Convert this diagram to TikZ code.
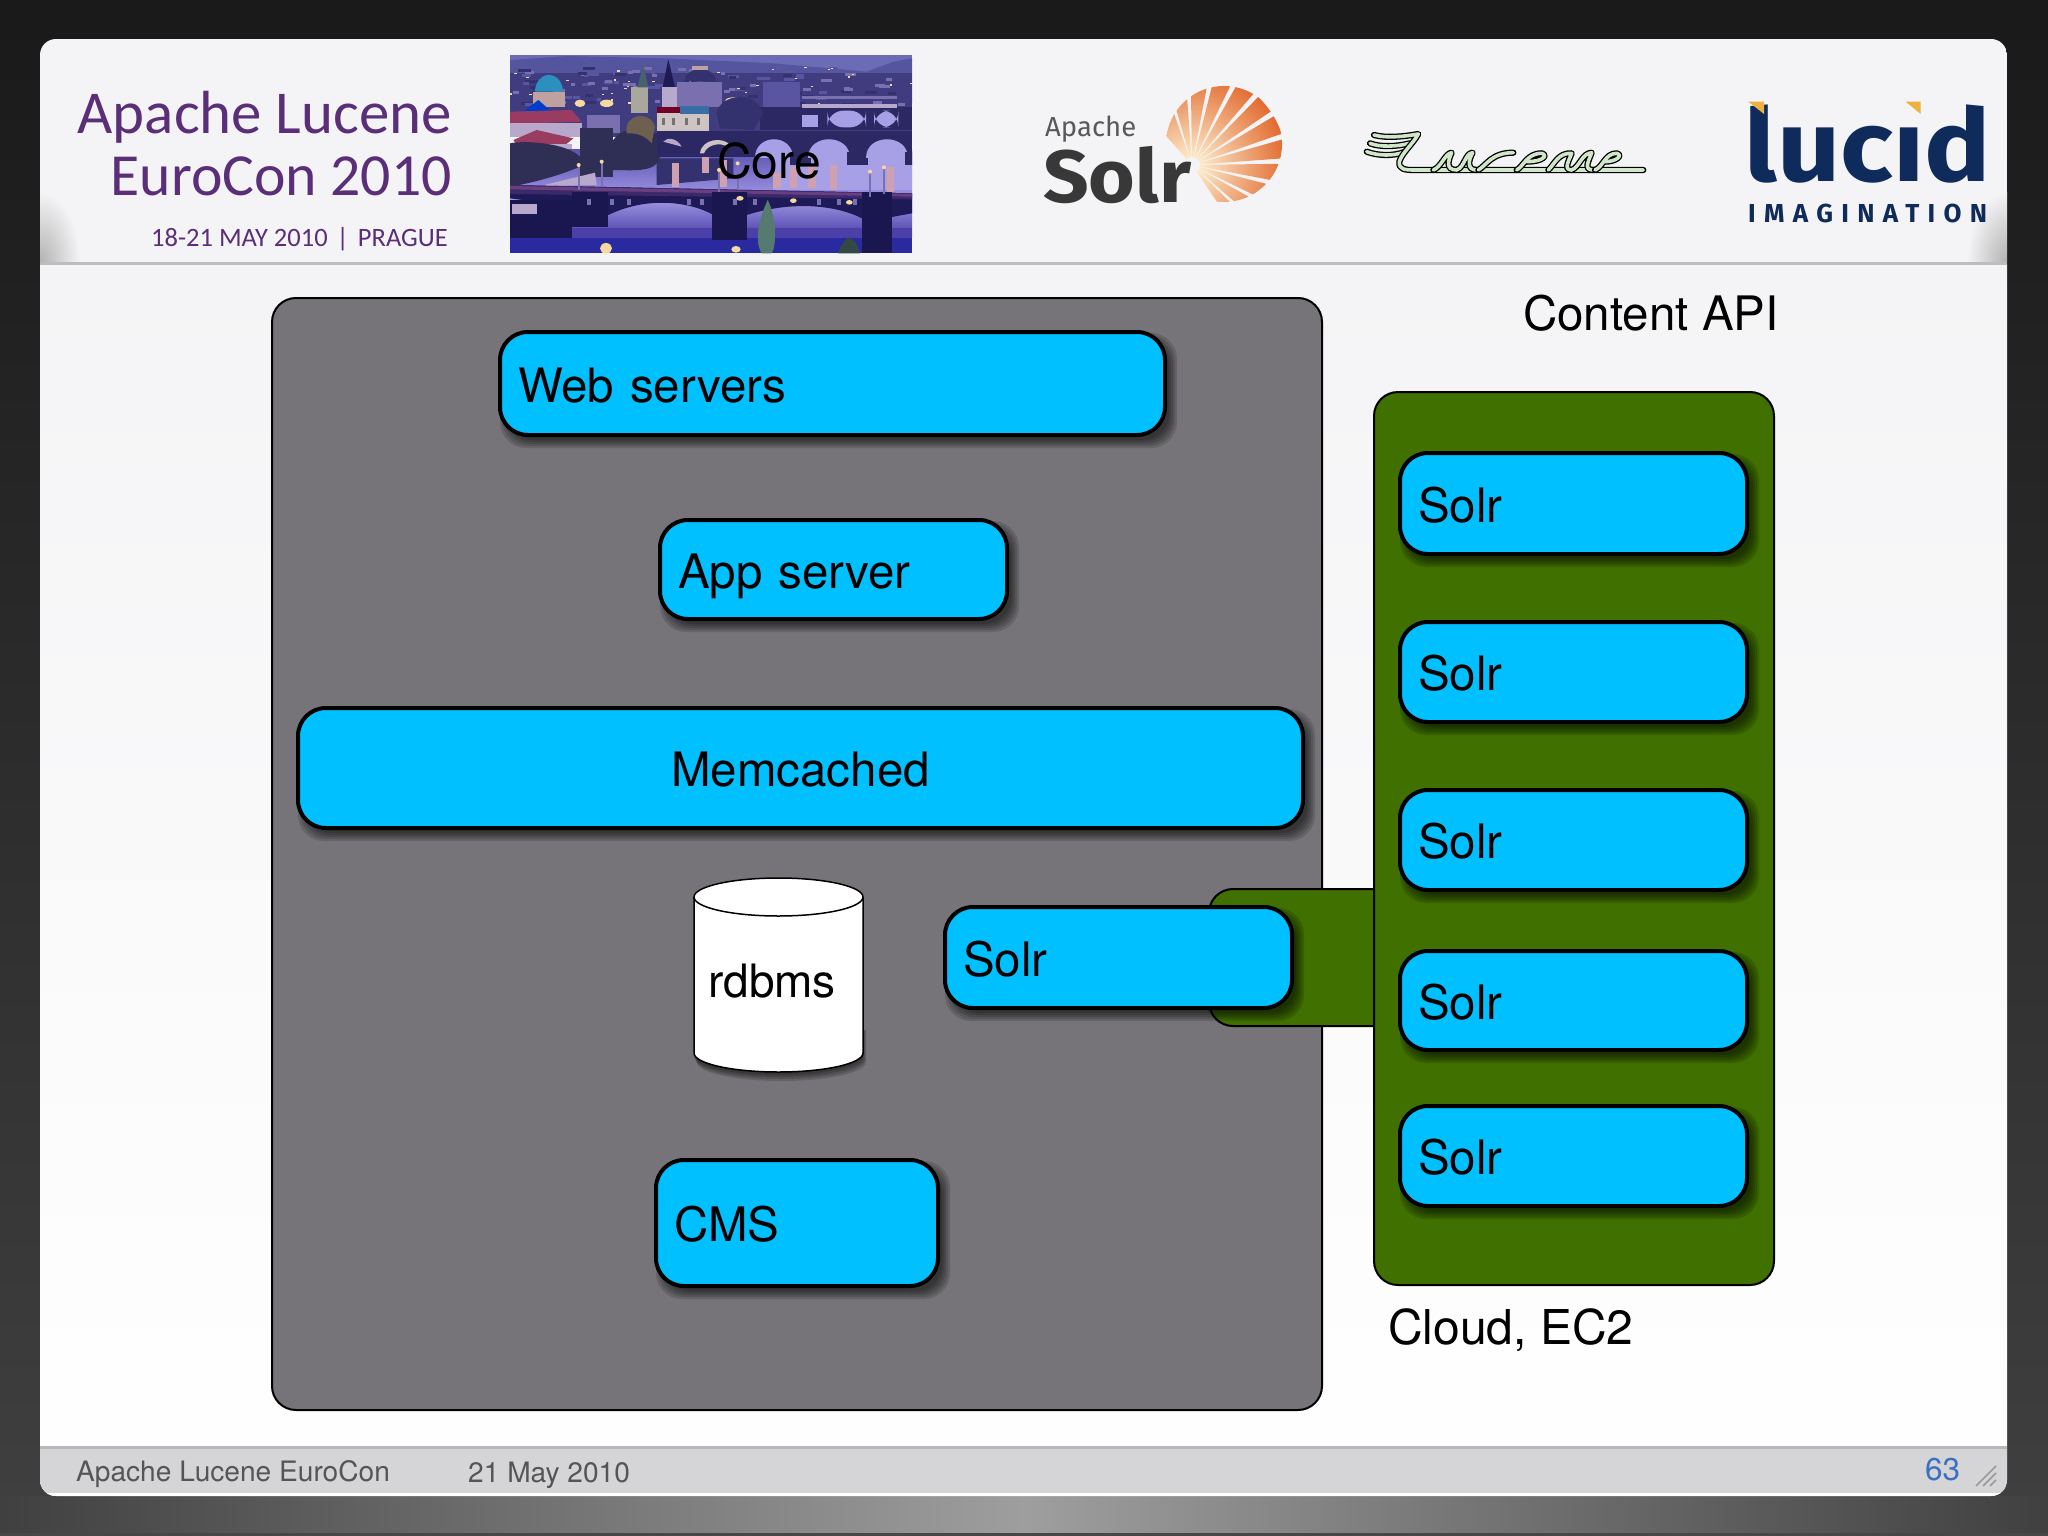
\documentclass[tikz,border=0pt]{standalone}
\usepackage{fontspec}
\setmainfont{TeX Gyre Heros}
\newfontfamily\titlef{Carlito}
\newfontfamily\firaf{Fira Sans}
\newfontfamily\imgf[LetterSpace=32]{Fira Sans}
\definecolor{bluefill}{HTML}{00C0FF}
\definecolor{greenfill}{HTML}{407000}
\definecolor{grayfill}{HTML}{767478}
\definecolor{headbg}{HTML}{F4F4F6}
\definecolor{footbg}{HTML}{D5D4D7}
\definecolor{titlepurple}{HTML}{5A2E78}
\definecolor{navy}{HTML}{0F2B5B}
\definecolor{amber}{HTML}{EDB13F}
\definecolor{palegreen}{HTML}{CFE6C8}
\definecolor{pagenum}{HTML}{3B70C2}
\definecolor{foottext}{HTML}{555555}
\definecolor{sunin}{HTML}{FFF6D6}
\definecolor{sunmid}{HTML}{F8CE8E}
\definecolor{sunout}{HTML}{E26A30}
% Prague palette
\definecolor{psky}{HTML}{6C6BB5}
\definecolor{phill}{HTML}{55549F}
\definecolor{pcity}{HTML}{3F3D80}
\definecolor{pb1}{HTML}{5A55A0}
\definecolor{pb2}{HTML}{7A70B0}
\definecolor{pb3}{HTML}{33316E}
\definecolor{pbridge}{HTML}{2B2864}
\definecolor{pdark}{HTML}{1E1A58}
\definecolor{ppier}{HTML}{1A1750}
\definecolor{pdeck}{HTML}{3A2A6A}
\definecolor{pdeckline}{HTML}{6A3F80}
\definecolor{pwatera}{HTML}{5C54B0}
\definecolor{pwaterb}{HTML}{9A90E0}
\definecolor{pwaterc}{HTML}{A8A0E6}
\definecolor{plow}{HTML}{A59CE8}
\definecolor{plowb}{HTML}{4A40A8}
\definecolor{pdeep}{HTML}{2A2AA0}
\definecolor{ptree}{HTML}{2F2F55}
\definecolor{polive}{HTML}{6E6050}
\definecolor{pred}{HTML}{9A3C62}
\definecolor{pwall}{HTML}{B8A8CC}
\definecolor{pteal}{HTML}{2B8FC0}
\definecolor{pdrum}{HTML}{BFA2A0}
\definecolor{pcream}{HTML}{CFC4C4}
\definecolor{pglow}{HTML}{F6D9A0}
\definecolor{prefl}{HTML}{CFA0B0}
\definecolor{pcyp}{HTML}{557A70}
\definecolor{pstone}{HTML}{AAA89C}
\tikzset{
 x=1pt,y=-1pt,
 bluenode/.style={draw=black,line width=4pt,fill=bluefill,rounded corners=28pt,inner xsep=18pt,inner ysep=0pt,align=left,text height=37pt,text depth=0pt,font=\fontsize{47.5}{52}\selectfont},
 darkpanel/.style={draw=black,line width=2pt,rounded corners=24pt},
 biglabel/.style={inner sep=0pt,anchor=west,font=\fontsize{47.5}{52}\selectfont},
 foot/.style={inner sep=0pt,anchor=base west,text=foottext,font=\fontsize{28.1}{32}\selectfont},
 titletext/.style={inner sep=0pt,anchor=base east,text=titlepurple},
 lucenestroke/.style={draw=black,line width=1.3pt,double=palegreen,double distance=3.6pt,line cap=round,line join=round},
}
\newcommand{\softshadow}[5]{%
 \foreach \e in {6,4,2,0,-2}{\fill[black,opacity=.14,rounded corners=#5] ({#1+6-\e},{#2+7-\e}) rectangle ({#3+6+\e},{#4+7+\e});}}
\newcommand{\bluebox}[6]{%
 \softshadow{#2}{#3}{#4}{#5}{26pt}%
 \pgfmathsetmacro\bw{#4-#2}\pgfmathsetmacro\bh{#5-#3}\pgfmathsetmacro\bt{#4-#2-36}%
 \node[bluenode,minimum width=\bw pt,minimum height=\bh pt,text width=\bt pt] (#1) at ({(#2+#4)/2},{(#3+#5)/2}) {#6};}
\begin{document}
\begin{tikzpicture}
\useasboundingbox (0,0) rectangle (2048,1536);
% page background
\shade[top color=black!90,bottom color=black!75] (0,0) rectangle (2048,1536);
\shade[left color=black!75,right color=black!75,middle color=black!38] (0,1496) rectangle (2048,1536);
\fill[black!72] (0,1533) rectangle (2048,1536);
% slide
\begin{scope}
\clip[rounded corners=16pt] (40,39) rectangle (2007,1496);
\shade[top color=headbg,bottom color=white] (40,264) rectangle (2007,1496);
\fill[headbg] (40,39) rectangle (2007,264);
\begin{scope}
\clip (40,39) rectangle (2007,262);
\shade[inner color=black!30,outer color=headbg] (40,262) ellipse (40 and 70);
\shade[inner color=black!30,outer color=headbg] (2007,262) ellipse (40 and 70);
\end{scope}
\fill[black!26] (40,262) rectangle (2007,265);
\fill[footbg] (40,1446) rectangle (2007,1496);
\fill[black!28] (40,1446) rectangle (2007,1449);
\fill[white] (40,1493) rectangle (2007,1496);
\end{scope}
% conference title
\node[titletext,font=\titlef\fontsize{60.9}{64}\selectfont] (t1) at (452,134) {Apache Lucene};
\node[titletext,font=\titlef\fontsize{59.7}{64}\selectfont] (t2) at (452,195) {EuroCon 2010};
\node[titletext,font=\titlef\fontsize{26.5}{28}\selectfont] (t3) at (448,246) {18-21 MAY 2010\hspace{9pt}|\hspace{9pt}PRAGUE};
% Prague picture
\begin{scope}[shift={(500,50)},x=.33333pt,y=-.33333pt]
\clip (30,15) rectangle (1236,610);
\fill[psky] (30,15) rectangle (1236,70);
\fill[phill] (30,70) -- (30,30) -- (200,18) -- (500,25) -- (820,40) -- (1100,65) -- (1180,35) -- (1236,25) -- (1236,160) -- (30,160) -- cycle;
\fill[pcity] (30,70) rectangle (1236,260);
\pgfmathsetseed{41}
\foreach \i in {1,...,110}{
 \pgfmathsetmacro\xa{30+1200*rnd}\pgfmathsetmacro\ya{50+110*rnd}\pgfmathsetmacro\wa{12+28*rnd}
 \pgfmathrandominteger{\pk}{1}{3}
 \fill[pb\pk] (\xa,\ya) rectangle ({\xa+\wa},{\ya+9});}
\foreach \i in {1,...,35}{
 \pgfmathsetmacro\xa{30+1200*rnd}\pgfmathsetmacro\ya{50+110*rnd}
 \fill[pglow] (\xa,\ya) rectangle ({\xa+7},{\ya+4});}
% far bridge
\fill[pbridge] (780,170) rectangle (1236,240);
\fill[pb1] (790,95) rectangle (900,170);
\fill[pb2] (905,138) rectangle (1190,148);
\fill[pwall] (905,162) rectangle (1190,174);
\fill[pwaterc] (905,195) rectangle (955,232);
\fill[rounded corners=16pt,pwaterc] (982,182) rectangle (1098,232);
\fill[rounded corners=16pt,pwaterc] (1122,182) rectangle (1195,232);
% dome, towers, buildings
\fill[pdrum] (100,125) rectangle (195,172);
\fill[pteal] (105,125) arc[start angle=180,end angle=360,x radius=42,y radius=50] -- cycle;
\fill[blue!70!cyan!80!black] (70,185) -- (115,150) -- (155,185) -- cycle;
\fill[pred] (30,185) -- (215,180) -- (245,215) -- (30,222) -- cycle;
\fill[pwall] (30,218) rectangle (245,262);
\fill[pred] (40,270) -- (110,240) -- (220,265) -- (190,290) -- (50,285) -- cycle;
\fill[pwall] (60,282) rectangle (215,300);
\fill[pstone] (392,112) rectangle (445,190);
\fill[cyan!35!black] (430,42) -- (412,112) -- (445,112) -- cycle;
\fill[pdark] (505,28) -- (488,112) -- (525,112) -- cycle;
\fill[pwall] (485,110) rectangle (532,172);
\fill[pb2] (530,95) rectangle (665,172);
\fill[pb3] (553,95) arc[start angle=180,end angle=360,x radius=48,y radius=38] -- cycle;
\fill[pdrum] (575,48) rectangle (625,60);
\fill[pcream] (470,172) rectangle (626,250);
\fill[purple!60!black] (470,170) rectangle (540,188);
\fill[cyan!55!blue!75!black] (540,168) rectangle (626,192);
\foreach \x in {485,515,555,590}{\fill[black!55] (\x,205) rectangle ({\x+10},225);}
\fill[pb2] (260,195) rectangle (360,250);
% lights
\fill[pglow] (240,160) ellipse (16 and 11);
\fill[pglow] (320,160) ellipse (20 and 11);
\fill[pglow] (700,152) ellipse (24 and 10);
% water
\shade[top color=pwatera,bottom color=pwaterb] (30,300) rectangle (1236,430);
\fill[pwaterc] (820,310) rectangle (1236,420);
\fill[pb3] (470,325) -- (700,325) -- (700,385) -- (470,405) -- cycle;
% trees
\fill[ptree] (330,360) .. controls (300,230) and (420,220) .. (470,250) -- (480,320) .. controls (470,370) and (400,360) .. (330,360) -- cycle;
\fill[polive] (380,250) .. controls (370,190) and (450,180) .. (465,230) -- (455,280) .. controls (430,250) and (400,250) .. (380,250) -- cycle;
\fill[pb3] (650,190) .. controls (660,130) and (770,120) .. (790,190) -- (760,240) -- (660,235) -- cycle;
\fill[ptree] (240,235) rectangle (340,380);
\fill[ptree] (30,280) .. controls (80,270) and (200,280) .. (240,320) -- (240,350) .. controls (170,380) and (90,400) .. (30,410) -- cycle;
\fill[pwall] (120,408) -- (285,368) -- (290,405) -- cycle;
% middle bridge
\fill[pbridge] (470,242) rectangle (1236,322);
\foreach \xa/\xb in {765/878,925/1050,1097/1224}{
 \fill[pwaterc] (\xa,325) .. controls (\xa,250) and (\xb,250) .. (\xb,325) -- cycle;
 \fill[pbridge] ({\xb-8},305) rectangle ({\xb+55},345);}
\fill[pcream] (600,310) .. controls (605,265) and (670,260) .. (690,285) -- (680,290) .. controls (660,275) and (620,285) .. (612,310) -- cycle;
\fill[pwall] (490,275) .. controls (500,262) and (530,262) .. (545,290) -- cycle;
% reflections
\foreach \xa/\ya/\yb in {515/340/410,605/320/370,660/330/410,820/370/415,870/350/415,925/350/415,990/345/420,1160/350/425}{
 \fill[prefl] (\xa,\ya) rectangle ({\xa+22},\yb);}
% lower water and bridge
\shade[top color=plow,bottom color=plowb] (30,440) rectangle (1236,560);
\fill[plowb] (30,535) rectangle (1236,610);
\fill[pdeep] (30,565) rectangle (1236,610);
\fill[pdark] (30,405) -- (1236,430) -- (1236,490) -- (1170,502) .. controls (1150,480) and (1110,470) .. (1085,505) .. controls (1030,475) and (900,445) .. (740,495) -- (640,495) .. controls (590,465) and (460,430) .. (325,495) -- (215,470) -- (30,445) -- cycle;
\fill[pdeck] (30,405) -- (1236,430) -- (1236,448) -- (30,432) -- cycle;
\fill[pdeckline] (30,408) -- (1236,432) -- (1236,440) -- (30,418) -- cycle;
\foreach \xa/\xb/\yb in {215/325/530,635/740/570,1085/1175/610}{
 \fill[ppier] (\xa,425) rectangle (\xb,\yb);}
\fill[ppier] (30,450) rectangle (215,565);
\fill[pwall] (35,462) rectangle (110,492);
\foreach \x in {260,330,380,560,600,700,760,950,1010,1060}{\fill[pb2] (\x,448) rectangle ({\x+12},466);}
\fill[pglow] (720,445) ellipse (11 and 7);
\fill[pglow] (880,452) ellipse (10 and 7);
\fill[pglow] (1048,457) ellipse (10 and 7);
\fill[pglow] (318,595) ellipse (18 and 16);
\fill[pglow] (708,598) ellipse (14 and 10);
% cypress and trees
\fill[pcyp] (803,450) .. controls (830,500) and (830,590) .. (815,610) -- (785,610) .. controls (760,570) and (780,500) .. (803,450) -- cycle;
\fill[pcyp!60!black] (1015,610) .. controls (1030,560) and (1060,540) .. (1080,610) -- cycle;
% lamp posts
\foreach \x/\ya/\yb in {236/345/420,305/335/410,657/360/425,713/340/420,1110/365/440,1152/352/432}{
 \fill[pb2] ({\x-3},\ya) rectangle ({\x+3},\yb);
 \fill[pglow] (\x,\ya) circle (6);}
\end{scope}
\node[biglabel,font=\fontsize{48}{52}\selectfont] (core) at (717,161) {Core};
% Solr logo
\begin{scope}
\clip (1224,144) circle (58);
\clip \foreach \a in {-50,-35,-20,-5,10,25,40,55,70,85,100,115,126}{ (1192,165) -- +({-\a-5.8}:170) -- +({-\a+5.8}:170) -- cycle };
\shade[inner color=sunin,middle color=sunmid,outer color=sunout] (1192,165) circle (95);
\end{scope}
\fill[headbg] (1192,165) circle (8);
\node[inner sep=0pt,anchor=base west,text=black!65,font=\firaf\fontsize{27.5}{30}\selectfont] (sa) at (1045,136) {Apache};
\node[inner sep=0pt,anchor=base west,text=black!78,xscale=1.08,transform shape,font=\firaf\bfseries\fontsize{74}{76}\selectfont] (sb) at (1043,202) {Solr};
% Lucene logo
\begin{scope}[shift={(1350,120)},x=.33333pt,y=-.33333pt]
\draw[lucenestroke] (50,95) .. controls (85,108) and (130,108) .. (160,97);
\draw[lucenestroke] (60,70) .. controls (90,82) and (140,80) .. (178,70);
\draw[lucenestroke] (72,45) .. controls (110,55) and (160,50) .. (205,42) .. controls (190,70) and (155,100) .. (148,125) .. controls (145,150) and (170,150) .. (190,150) -- (880,150);
\draw[lucenestroke] (250,150) .. controls (275,140) and (285,100) .. (305,98) .. controls (295,120) and (285,150) .. (320,150) .. controls (345,140) and (345,100) .. (368,98) .. controls (355,120) and (350,150) .. (380,150);
\draw[lucenestroke] (385,150) .. controls (410,135) and (425,98) .. (490,98);
\draw[lucenestroke] (500,150) .. controls (520,140) and (530,100) .. (575,100) .. controls (595,105) and (580,125) .. (530,125);
\draw[lucenestroke] (595,150) .. controls (615,130) and (625,98) .. (665,100) .. controls (655,125) and (640,150) .. (665,150) .. controls (690,140) and (695,100) .. (725,98) .. controls (715,125) and (700,150) .. (730,150);
\draw[lucenestroke] (735,150) .. controls (760,140) and (765,100) .. (800,100) .. controls (820,105) and (800,125) .. (765,125);
\end{scope}
% Lucid logo
\node[inner sep=0pt,anchor=base west,text=navy,text depth=0pt,xscale=1.095,transform shape,font=\firaf\bfseries\fontsize{101}{104}\selectfont] (lucid) at (1744,182) {lucid};
\begin{scope}[shift={(1740,90)},x=.33333pt,y=-.33333pt]
\fill[headbg] (472,0) rectangle (580,94);
\fill[amber] (25,35) -- (72,35) -- (72,72) -- cycle;
\fill[amber] (497,35) -- (542,35) -- (542,72) -- cycle;
\end{scope}
\node[inner sep=0pt,anchor=base west,text=navy,text height=19pt,text depth=0pt,font=\imgf\bfseries\fontsize{26}{28}\selectfont] (imag) at (1748,222) {IMAGINATION};
% architecture panel
\fill[darkpanel,fill=grayfill] (272,298) rectangle (1322,1410);
\node[biglabel] (capi) at (1523,313) {Content API};
\fill[darkpanel,fill=greenfill] (1209,889) rectangle (1400,1026);
\fill[darkpanel,fill=greenfill] (1374,392) rectangle (1774,1285);
\bluebox{web}{500}{332}{1165}{435}{Web servers}
\bluebox{app}{660}{520}{1007}{619}{App server}
\softshadow{298}{708}{1303}{828}{26pt}
\node[bluenode,align=center,minimum width=1005pt,minimum height=120pt] (mem) at (800.5,768) {Memcached};
% rdbms cylinder
\foreach \e in {6,4,2,0}{\fill[black,opacity=.16] ({694+\e/2},1030) -- ({694+\e/2},{1056+\e}) arc[start angle=180,end angle=0,x radius=84.5,y radius=19] -- ({863+\e/2},1030) -- cycle;}
\draw[fill=white,line width=1.5pt] (694,897) -- (694,1053) arc[start angle=180,end angle=0,x radius=84.5,y radius=19] -- (863,897) arc[start angle=0,end angle=-180,x radius=84.5,y radius=19] -- cycle;
\draw[line width=1.5pt] (694,897) arc[start angle=180,end angle=0,x radius=84.5,y radius=19];
\node[inner sep=0pt,font=\fontsize{46}{50}\selectfont] (rdbms) at (772,981) {rdbms};
\bluebox{solrf}{945}{907}{1292}{1008}{Solr}
\bluebox{cms}{656}{1160}{938}{1286}{CMS}
\bluebox{s1}{1400}{453}{1747}{554}{Solr}
\bluebox{s2}{1400}{622}{1747}{722}{Solr}
\bluebox{s3}{1400}{790}{1747}{890}{Solr}
\bluebox{s4}{1400}{951}{1747}{1050}{Solr}
\bluebox{s5}{1400}{1106}{1747}{1206}{Solr}
\node[biglabel,font=\fontsize{48}{52}\selectfont] (cloud) at (1388,1330) {Cloud, EC2};
% footer
\node[foot] (f1) at (76,1481) {Apache Lucene EuroCon};
\node[foot] (f2) at (468,1482) {21 May 2010};
\node[inner sep=0pt,anchor=base west,text=pagenum,font=\fontsize{31.5}{34}\selectfont] (pg) at (1925,1480) {63};
\foreach \d in {0,7,14}{\draw[black!40,line width=1.5pt] ({1976+\d},1486) -- ({1996},{1466+\d});}
\end{tikzpicture}
\end{document}
